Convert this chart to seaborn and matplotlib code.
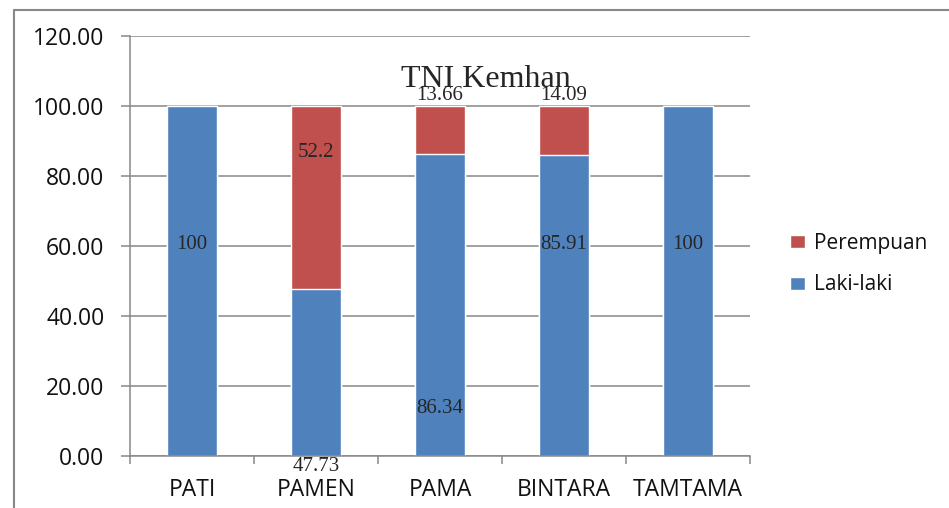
import matplotlib
matplotlib.use("Agg")
import matplotlib.pyplot as plt
import seaborn as sns
from matplotlib.patches import Patch
from matplotlib.lines import Line2D

# data
categories = ["PATI", "PAMEN", "PAMA", "BINTARA", "TAMTAMA"]
laki_laki = [100, 47.73, 86.34, 85.91, 100]
perempuan = [0, 52.2, 13.66, 14.09, 0]
totals = [l + p for l, p in zip(laki_laki, perempuan)]

# where Excel put the data labels (y in data units)
laki_label_y = [60.3, -3.0, 13.7, 60.3, 60.3]
perempuan_label_y = [None, 86.6, 103.1, 103.1, None]

blue = "#4F81BD"
red = "#C0504D"
grey = "#878787"

sns.set_style("white")
plt.rcParams["font.family"] = ["Open Sans", "DejaVu Sans"]

fig = plt.figure(figsize=(9.49, 5.08), dpi=100)
ax = fig.add_axes([130 / 949, 1 - 456 / 508, 620 / 949, 420 / 508])

# stacked bars: full height in red, then the blue part on top of it
sns.barplot(x=categories, y=totals, color=red, width=0.4, saturation=1, ax=ax)
sns.barplot(x=categories, y=laki_laki, color=blue, width=0.4, saturation=1, ax=ax)

ax.set_xlim(-0.5, 4.5)
ax.set_ylim(0, 120)
ax.set_yticks(range(0, 121, 20))
ax.set_yticklabels([f"{v:.2f}" for v in range(0, 121, 20)], fontsize=16.5, color="#111111")
ax.set_xticks(range(len(categories)))
ax.set_xticklabels(categories, fontsize=16.5, color="#111111")
ax.set_xticks([i - 0.5 for i in range(len(categories) + 1)], minor=True)
ax.tick_params(axis="x", which="major", bottom=True, length=0, pad=16)
ax.tick_params(axis="x", which="minor", bottom=True, length=6, width=1.1, color=grey, direction="out")
ax.tick_params(axis="y", left=True, length=6.5, width=1.1, color=grey, pad=12, direction="out")
ax.set_xlabel("")
ax.set_ylabel("")

ax.grid(axis="y", color=grey, linewidth=1.1)
ax.set_axisbelow(True)
for side in ["top", "right"]:
    ax.spines[side].set_visible(False)
for side in ["left", "bottom"]:
    ax.spines[side].set_color(grey)
    ax.spines[side].set_linewidth(1.1)

# data labels in Times-like font
for i, v in enumerate(laki_laki):
    ax.text(i, laki_label_y[i], f"{v:g}", ha="center", va="center",
            fontsize=15, family="Liberation Serif", clip_on=False)
for i, v in enumerate(perempuan):
    if perempuan_label_y[i] is not None:
        ax.text(i, perempuan_label_y[i], f"{v:g}", ha="center", va="center",
                fontsize=15, family="Liberation Serif", clip_on=False)

ax.text(2.37, 105.4, "TNI Kemhan", ha="center", va="baseline",
        fontsize=23, family="Liberation Serif")

handles = [Patch(facecolor=red, label="Perempuan"), Patch(facecolor=blue, label="Laki-laki")]
ax.legend(handles=handles, loc="center left", bbox_to_anchor=(1.047, 0.457),
          frameon=False, fontsize=15, borderpad=0, handlelength=0.72,
          handleheight=0.6, handletextpad=0.45, labelspacing=1.0,
          labelcolor="#111111")

# chart area border (left and top edges only visible)
fig.add_artist(Line2D([14 / 949, 14 / 949], [0, 1 - 10 / 508], color=grey, linewidth=1.5))
fig.add_artist(Line2D([14 / 949, 1], [1 - 10 / 508, 1 - 10 / 508], color=grey, linewidth=1.5))

fig.savefig("out.png", dpi=100)
